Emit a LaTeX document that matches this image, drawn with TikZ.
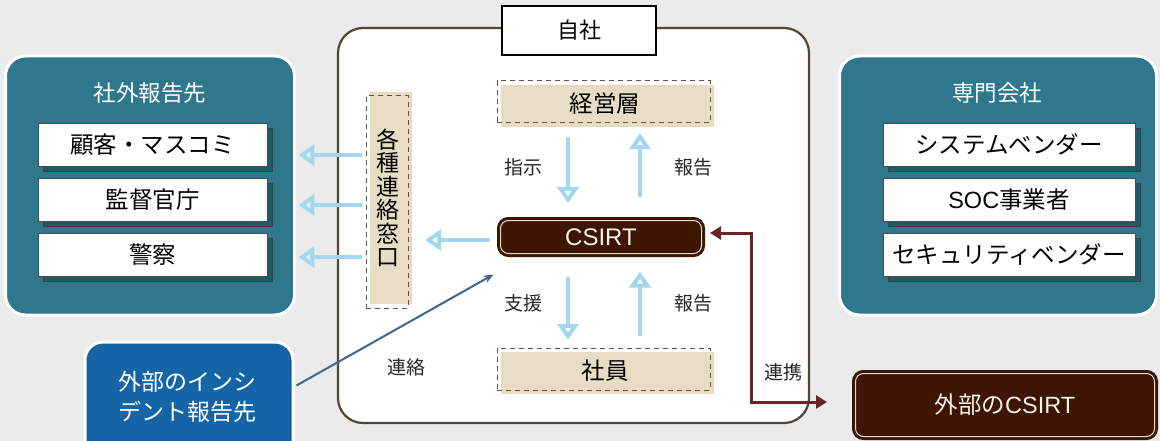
\documentclass[tikz,border=0pt]{standalone}
\usepackage{fontspec}
\setmainfont{Noto Sans CJK JP}
\newfontfamily\latf{Liberation Sans}
\usetikzlibrary{arrows.meta,shadows}
\definecolor{bgc}{HTML}{EBEBEB}
\definecolor{tealc}{HTML}{2E778C}
\definecolor{extblue}{HTML}{1565A6}
\definecolor{dbrown}{HTML}{3D1500}
\definecolor{beige}{HTML}{E8DCC5}
\definecolor{olive}{HTML}{4F4732}
\definecolor{connred}{HTML}{6B2525}
\definecolor{lineblue}{HTML}{3F6590}
\definecolor{lblue}{HTML}{A3D7F0}
\definecolor{dashc}{HTML}{6B5045}
\tikzset{
  panel/.style={draw=white, line width=3pt, fill=tealc, rounded corners=20pt, inner sep=0pt},
  ptitle/.style={text=white, font=\fontsize{22.5}{26}\selectfont},
  wbox/.style={draw=black!70, line width=0.8pt, fill=white, inner sep=0pt,
    font=\fontsize{23.5}{27}\selectfont,
    general shadow={shadow xshift=5pt, shadow yshift=-5pt, fill=tealc!75!black, draw=black!75, line width=0.8pt}},
  beigebox/.style={fill=beige, draw=none, inner sep=0pt},
  dashbox/.style={draw=dashc, dash pattern=on 5pt off 4pt, line width=1pt, inner sep=0pt},
  darkbox/.style={fill=dbrown, draw=dbrown, double=white!85!dbrown, double distance=1pt, line width=3pt,
    rounded corners=8pt, inner sep=0pt, text=white!95!dbrown, font=\fontsize{23.5}{27}\selectfont},
  larrow/.style={draw=lblue, line width=4.5pt, -{Triangle[open, length=16pt, width=21pt]}},
  lbl/.style={font=\fontsize{19}{22}\selectfont, text=black!85},
  conn/.style={draw=connred, line width=3pt, {Triangle[length=11pt,width=13pt]}-{Triangle[length=11pt,width=13pt]}},
  bline/.style={draw=lineblue, line width=2pt, -{Stealth[length=10pt,width=8pt]}}
}
\begin{document}
\begin{tikzpicture}[x=1pt,y=-1pt]
\useasboundingbox (0,0) rectangle (1160,441);
\clip (0,0) rectangle (1160,441);
\fill[bgc] (0,0) rectangle (1160,441);

% left panel
\node[panel, minimum width=289pt, minimum height=259pt] (lp) at (150,185.5) {};
\node[ptitle] (lpt) at (150,93) {社外報告先};
\node[wbox, minimum width=229pt, minimum height=43pt] (b1) at (152.5,144.5) {顧客・マスコミ};
\node[wbox, minimum width=229pt, minimum height=43pt] (b2) at (152.5,200) {監督官庁};
\node[wbox, minimum width=229pt, minimum height=43pt] (b3) at (152.5,254.5) {警察};

% right panel
\node[panel, minimum width=317pt, minimum height=259pt] (rp) at (998,185.5) {};
\node[ptitle] (rpt) at (997,93) {専門会社};
\node[wbox, minimum width=252pt, minimum height=43pt] (r1) at (1009,144.5) {システムベンダー};
\node[wbox, minimum width=252pt, minimum height=43pt] (r2) at (1009,200) {{\latf SOC}事業者};
\node[wbox, minimum width=252pt, minimum height=43pt] (r3) at (1009,254.5) {セキュリティベンダー};

% self company
\node[draw=olive, line width=2.2pt, rounded corners=25pt, fill=white, minimum width=471pt, minimum height=395pt, inner sep=0pt] (self) at (573.5,225.5) {};
\node[draw=black, line width=1.5pt, fill=white, minimum width=154pt, minimum height=49pt, inner sep=0pt, font=\fontsize{22}{25}\selectfont] (selfl) at (579,30.5) {自社};

% management
\node[beigebox, minimum width=213pt, minimum height=42pt] (keiei) at (607.5,106) {};
\node[dashbox, minimum width=213pt, minimum height=42pt] (keieid) at (603.5,102) {};
\node[font=\fontsize{23.5}{27}\selectfont] (keieit) at (605,104) {経営層};

% employees
\node[beigebox, minimum width=213pt, minimum height=42pt] (shain) at (607.5,373) {};
\node[dashbox, minimum width=213pt, minimum height=42pt] (shaind) at (603.5,369) {};
\node[font=\fontsize{23.5}{27}\selectfont] (shaint) at (605,371) {社員};

% contact window
\node[beigebox, minimum width=42pt, minimum height=212pt] (mado) at (391,198) {};
\node[dashbox, minimum width=42pt, minimum height=212pt] (madod) at (387,202) {};
\node[align=center, font=\fontsize{23}{23.5}\selectfont] (madot) at (388,198) {各\\種\\連\\絡\\窓\\口};

% CSIRT
\node[darkbox, minimum width=201pt, minimum height=33pt, font=\latf\fontsize{24}{27}\selectfont] (csirt) at (601,237) {CSIRT};

% external CSIRT
\node[darkbox, minimum width=299pt, minimum height=63pt] (ecsirt) at (1005,405) {外部の{\latf CSIRT}};

% external incident
\node[draw=white, line width=3pt, fill=extblue, rounded corners=18pt, minimum width=208pt, minimum height=128pt, inner sep=0pt] (ext) at (189,406) {};
\node[align=center, text=white, font=\fontsize{23}{30}\selectfont] (extt) at (187,397) {外部のインシ\\デント報告先};

% arrows inside
\draw[larrow] ([xshift=-39.5pt,yshift=-10pt]keiei.south) -- ([xshift=-33pt,yshift=16pt]csirt.north);
\draw[larrow] ([xshift=39pt,yshift=22pt]csirt.north) -- ([xshift=32.5pt,yshift=-6pt]keiei.south);
\draw[larrow] ([xshift=-33pt,yshift=-21.5pt]csirt.south) -- ([xshift=-39.5pt,yshift=12pt]shain.north);
\draw[larrow] ([xshift=32.5pt,yshift=16pt]shain.north) -- ([xshift=39pt,yshift=-16.5pt]csirt.south);
\draw[larrow] ([xshift=-9pt,yshift=-3pt]csirt.west) -- ([xshift=13pt,yshift=-42pt]mado.east);

\node[lbl] (l1) at (523,167) {指示};
\node[lbl] (l2) at (693,167) {報告};
\node[lbl] (l3) at (523,303) {支援};
\node[lbl] (l4) at (693,303) {報告};
\node[lbl] (l5) at (406,367) {連絡};
\node[lbl] (l6) at (783,372) {連携};

% arrows to outside report targets
\draw[larrow] ([xshift=-4pt,yshift=47pt]madod.west) -- ([xshift=31pt,yshift=-10.5pt]b1.east);
\draw[larrow] ([xshift=-4pt,yshift=-3pt]madod.west) -- ([xshift=31pt,yshift=-5pt]b2.east);
\draw[larrow] ([xshift=-4pt,yshift=-55pt]madod.west) -- ([xshift=31pt,yshift=-2.5pt]b3.east);

% external incident line
\draw[bline] ([xshift=2pt,yshift=-45pt]ext.north east) -- ([xshift=-5.5pt,yshift=-19.5pt]csirt.south west);

% cooperation connector
\draw[conn] ([xshift=7pt,yshift=4pt]csirt.east) -- ++(41,0) |- ([xshift=-27pt,yshift=3pt]ecsirt.west);
\end{tikzpicture}
\end{document}
